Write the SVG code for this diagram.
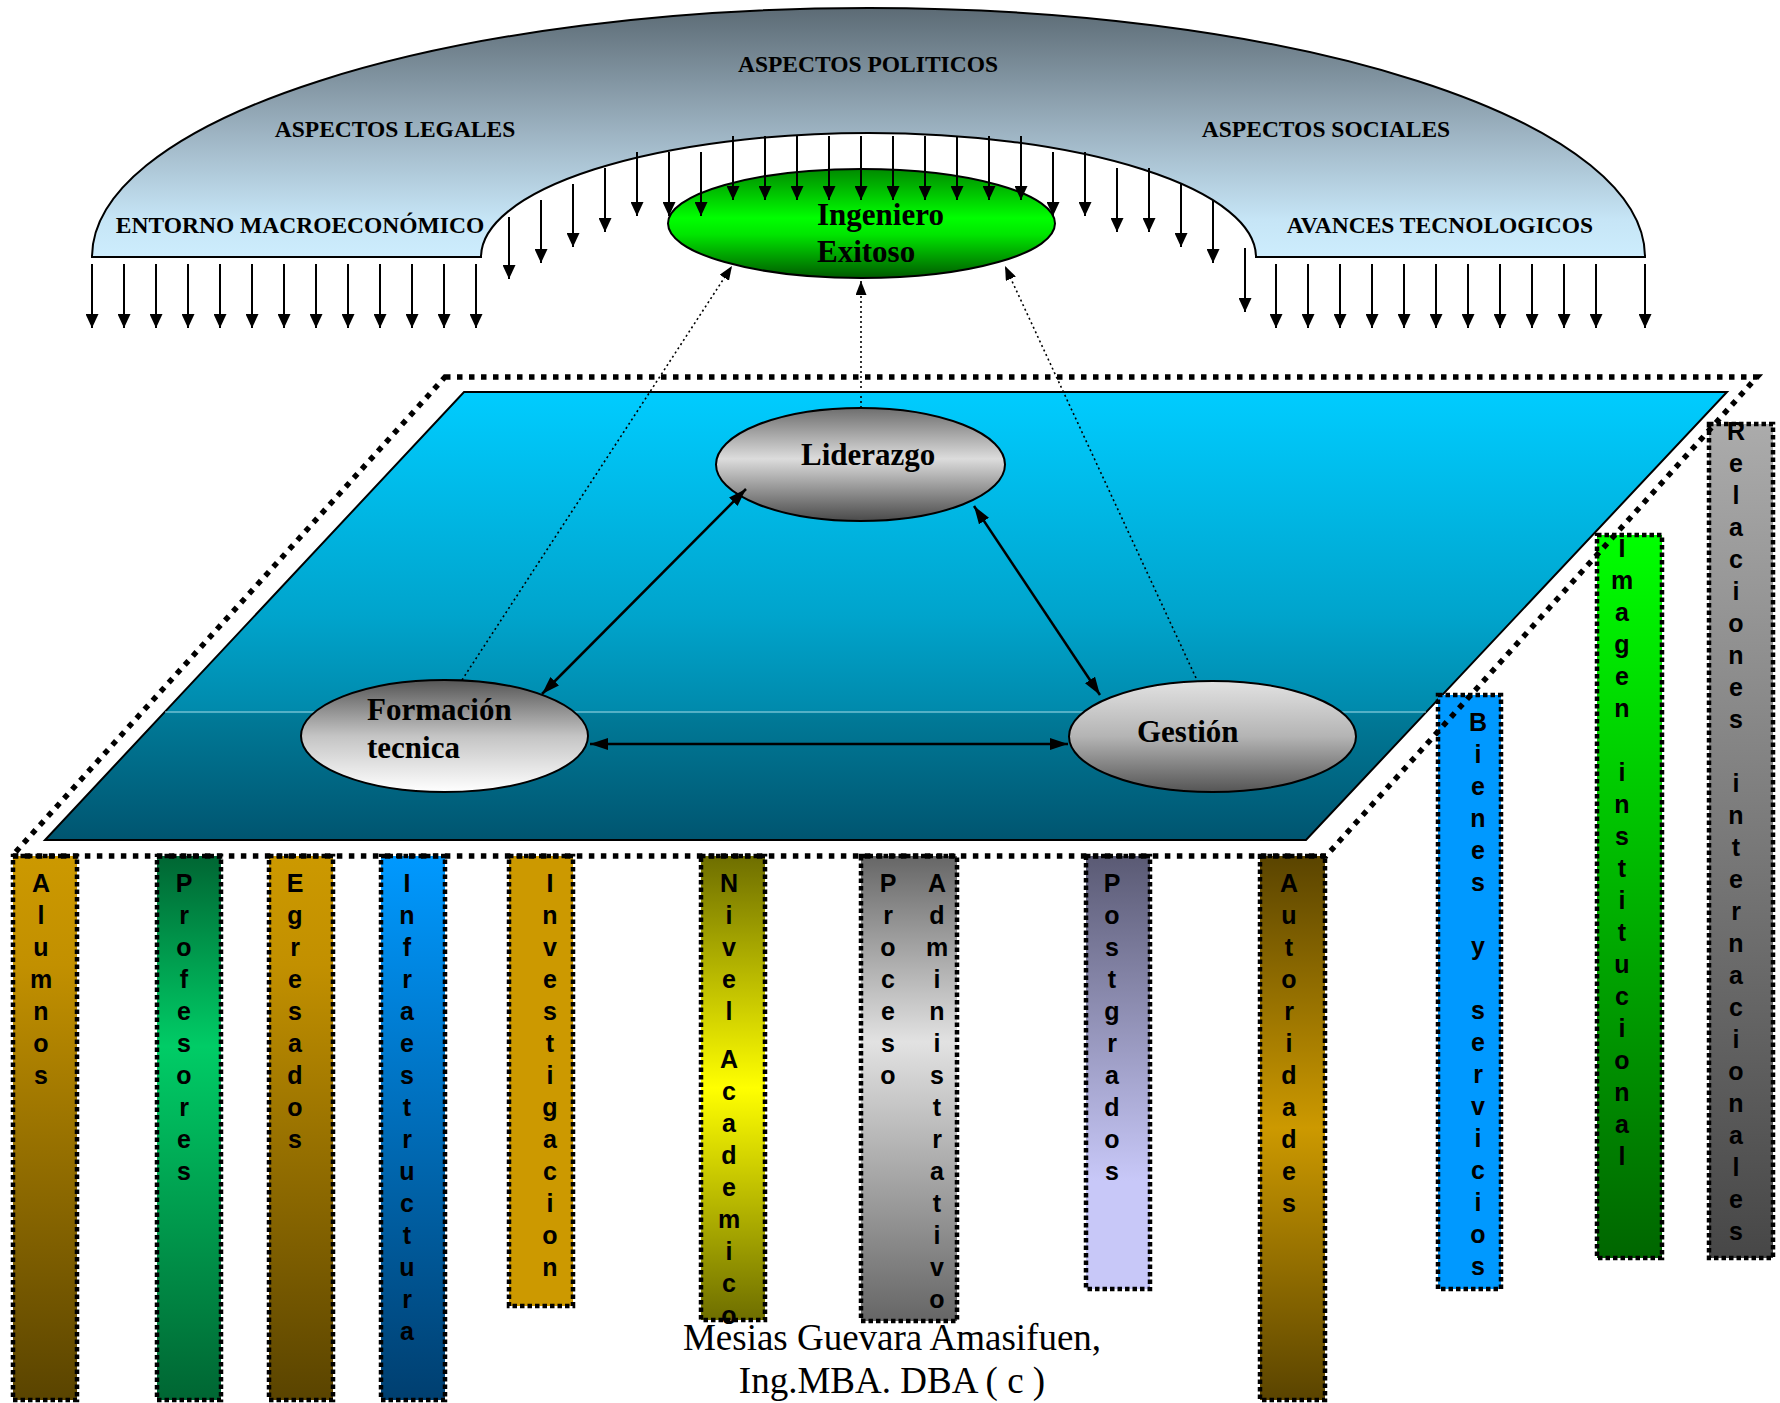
<svg xmlns="http://www.w3.org/2000/svg" width="1780" height="1403" viewBox="0 0 1780 1403">
<style>
.arch{font-family:"Liberation Serif","Times New Roman",serif;font-weight:bold;font-size:23.5px;fill:#000;text-anchor:middle}
.nl{font-family:"Liberation Serif","Times New Roman",serif;font-weight:bold;font-size:31px;fill:#000}
.pl{font-family:"Liberation Sans",Arial,sans-serif;font-weight:bold;font-size:25px;fill:#000;text-anchor:middle}
.auth{font-family:"Liberation Serif","Times New Roman",serif;font-size:37px;fill:#000;text-anchor:middle}
.box{stroke:#000;stroke-width:4.5;stroke-dasharray:4.5 3}
.dn{stroke:#000;stroke-width:2;fill:none;marker-end:url(#hd)}
.sol{stroke:#000;stroke-width:2.5;fill:none;marker-start:url(#hs);marker-end:url(#hs)}
.dot{stroke:#000;stroke-width:1.6;fill:none;stroke-dasharray:2 3;marker-end:url(#ht)}
.ell{stroke:#000;stroke-width:2}
</style>
<defs>
<marker id="hd" viewBox="0 0 14 13" refX="14" refY="6.5" markerWidth="14" markerHeight="13" markerUnits="userSpaceOnUse" orient="auto"><path d="M0,0 L14,6.5 L0,13 z" fill="#000"/></marker>
<marker id="hs" viewBox="0 0 18 12" refX="18" refY="6" markerWidth="18" markerHeight="12" markerUnits="userSpaceOnUse" orient="auto-start-reverse"><path d="M0,0 L18,6 L0,12 z" fill="#000"/></marker>
<marker id="ht" viewBox="0 0 14 11" refX="14" refY="5.5" markerWidth="14" markerHeight="11" markerUnits="userSpaceOnUse" orient="auto"><path d="M0,0 L14,5.5 L0,11 z" fill="#000"/></marker>
<linearGradient id="gArch" x1="0" y1="0" x2="0" y2="1"><stop offset="0" stop-color="#5c6b75"/><stop offset="0.5" stop-color="#9db3c2"/><stop offset="0.85" stop-color="#c6e5f6"/><stop offset="1" stop-color="#cdedfd"/></linearGradient>
<linearGradient id="gGreen" x1="0" y1="0" x2="0" y2="1"><stop offset="0" stop-color="#008a00"/><stop offset="0.45" stop-color="#00ff00"/><stop offset="0.6" stop-color="#00e600"/><stop offset="1" stop-color="#005a00"/></linearGradient>
<linearGradient id="gPlat" x1="0" y1="0" x2="0" y2="1"><stop offset="0" stop-color="#00ccff"/><stop offset="0.5" stop-color="#00a4cc"/><stop offset="0.71" stop-color="#008aac"/><stop offset="0.72" stop-color="#007a98"/><stop offset="1" stop-color="#005570"/></linearGradient>
<linearGradient id="gLid" x1="0" y1="0" x2="0" y2="1"><stop offset="0" stop-color="#6e6e6e"/><stop offset="0.45" stop-color="#dcdcdc"/><stop offset="1" stop-color="#4a4a4a"/></linearGradient>
<linearGradient id="gFor" x1="0" y1="0" x2="0" y2="1"><stop offset="0" stop-color="#555555"/><stop offset="0.5" stop-color="#c4c4c4"/><stop offset="1" stop-color="#ffffff"/></linearGradient>
<linearGradient id="gGes" x1="0" y1="0" x2="0" y2="1"><stop offset="0" stop-color="#e2e2e2"/><stop offset="0.5" stop-color="#b4b4b4"/><stop offset="1" stop-color="#555555"/></linearGradient>
<linearGradient id="pGold" x1="0" y1="0" x2="0" y2="1"><stop offset="0" stop-color="#cc9900"/><stop offset="0.2" stop-color="#c29000"/><stop offset="1" stop-color="#5a4400"/></linearGradient>
<linearGradient id="pProf" x1="0" y1="0" x2="0" y2="1"><stop offset="0" stop-color="#006633"/><stop offset="0.35" stop-color="#00cc66"/><stop offset="1" stop-color="#006633"/></linearGradient>
<linearGradient id="pInf" x1="0" y1="0" x2="0" y2="1"><stop offset="0" stop-color="#0099ff"/><stop offset="1" stop-color="#003f70"/></linearGradient>
<linearGradient id="pNiv" x1="0" y1="0" x2="0" y2="1"><stop offset="0" stop-color="#6e6e00"/><stop offset="0.5" stop-color="#ffff00"/><stop offset="1" stop-color="#6e6e00"/></linearGradient>
<linearGradient id="pPro" x1="0" y1="0" x2="0" y2="1"><stop offset="0" stop-color="#666666"/><stop offset="0.4" stop-color="#e2e2e2"/><stop offset="1" stop-color="#666666"/></linearGradient>
<linearGradient id="pPos" x1="0" y1="0" x2="0" y2="1"><stop offset="0" stop-color="#5a5a74"/><stop offset="0.75" stop-color="#c8c8f8"/><stop offset="1" stop-color="#c8c8f8"/></linearGradient>
<linearGradient id="pAut" x1="0" y1="0" x2="0" y2="1"><stop offset="0" stop-color="#5a4400"/><stop offset="0.5" stop-color="#cc9900"/><stop offset="1" stop-color="#5a4400"/></linearGradient>
<linearGradient id="pIma" x1="0" y1="0" x2="0" y2="1"><stop offset="0" stop-color="#00ff00"/><stop offset="1" stop-color="#006600"/></linearGradient>
<linearGradient id="pRel" x1="0" y1="0" x2="0" y2="1"><stop offset="0" stop-color="#ababab"/><stop offset="1" stop-color="#474747"/></linearGradient>
</defs>

<g id="entorno">
<path d="M92,257 A776.5,249 0 0 1 1645,257 L1256,257 A387.5,124 0 0 0 481,257 Z" fill="url(#gArch)" stroke="#000" stroke-width="2"/>
<text class="arch" x="868" y="72">ASPECTOS POLITICOS</text>
<text class="arch" x="395" y="137">ASPECTOS LEGALES</text>
<text class="arch" x="300" y="233">ENTORNO MACROECONÓMICO</text>
<text class="arch" x="1326" y="137">ASPECTOS SOCIALES</text>
<text class="arch" x="1440" y="233">AVANCES TECNOLOGICOS</text>
</g>

<g id="ingeniero">
<ellipse class="ell" cx="861.5" cy="223.5" rx="193.5" ry="54.5" fill="url(#gGreen)"/>
<text class="nl" x="817" y="225">Ingeniero</text>
<text class="nl" x="817" y="262">Exitoso</text>
</g>

<g id="influencias">
<line class="dn" x1="92" y1="264" x2="92" y2="328"/>
<line class="dn" x1="124" y1="264" x2="124" y2="328"/>
<line class="dn" x1="156" y1="264" x2="156" y2="328"/>
<line class="dn" x1="188" y1="264" x2="188" y2="328"/>
<line class="dn" x1="220" y1="264" x2="220" y2="328"/>
<line class="dn" x1="252" y1="264" x2="252" y2="328"/>
<line class="dn" x1="284" y1="264" x2="284" y2="328"/>
<line class="dn" x1="316" y1="264" x2="316" y2="328"/>
<line class="dn" x1="348" y1="264" x2="348" y2="328"/>
<line class="dn" x1="380" y1="264" x2="380" y2="328"/>
<line class="dn" x1="412" y1="264" x2="412" y2="328"/>
<line class="dn" x1="444" y1="264" x2="444" y2="328"/>
<line class="dn" x1="476" y1="264" x2="476" y2="328"/>
<line class="dn" x1="509" y1="217" x2="509" y2="279"/>
<line class="dn" x1="541" y1="200" x2="541" y2="263"/>
<line class="dn" x1="573" y1="184" x2="573" y2="247"/>
<line class="dn" x1="605" y1="168" x2="605" y2="232"/>
<line class="dn" x1="637" y1="152" x2="637" y2="216"/>
<line class="dn" x1="669" y1="152" x2="669" y2="216"/>
<line class="dn" x1="701" y1="152" x2="701" y2="216"/>
<line class="dn" x1="733" y1="136" x2="733" y2="200"/>
<line class="dn" x1="765" y1="136" x2="765" y2="200"/>
<line class="dn" x1="797" y1="136" x2="797" y2="200"/>
<line class="dn" x1="829" y1="136" x2="829" y2="200"/>
<line class="dn" x1="861" y1="136" x2="861" y2="200"/>
<line class="dn" x1="893" y1="136" x2="893" y2="200"/>
<line class="dn" x1="925" y1="136" x2="925" y2="200"/>
<line class="dn" x1="957" y1="136" x2="957" y2="200"/>
<line class="dn" x1="989" y1="136" x2="989" y2="200"/>
<line class="dn" x1="1021" y1="136" x2="1021" y2="200"/>
<line class="dn" x1="1053" y1="152" x2="1053" y2="216"/>
<line class="dn" x1="1085" y1="152" x2="1085" y2="216"/>
<line class="dn" x1="1117" y1="168" x2="1117" y2="232"/>
<line class="dn" x1="1149" y1="168" x2="1149" y2="232"/>
<line class="dn" x1="1181" y1="184" x2="1181" y2="247"/>
<line class="dn" x1="1213" y1="200" x2="1213" y2="263"/>
<line class="dn" x1="1245" y1="248" x2="1245" y2="312"/>
<line class="dn" x1="1276" y1="264" x2="1276" y2="328"/>
<line class="dn" x1="1308" y1="264" x2="1308" y2="328"/>
<line class="dn" x1="1340" y1="264" x2="1340" y2="328"/>
<line class="dn" x1="1372" y1="264" x2="1372" y2="328"/>
<line class="dn" x1="1404" y1="264" x2="1404" y2="328"/>
<line class="dn" x1="1436" y1="264" x2="1436" y2="328"/>
<line class="dn" x1="1468" y1="264" x2="1468" y2="328"/>
<line class="dn" x1="1500" y1="264" x2="1500" y2="328"/>
<line class="dn" x1="1532" y1="264" x2="1532" y2="328"/>
<line class="dn" x1="1564" y1="264" x2="1564" y2="328"/>
<line class="dn" x1="1596" y1="264" x2="1596" y2="328"/>
<line class="dn" x1="1645" y1="264" x2="1645" y2="328"/>
</g>

<g id="plataforma">
<polygon points="464,392 1727,392 1306,840 45,840" fill="url(#gPlat)" stroke="#000" stroke-width="2"/>
<line x1="165" y1="712" x2="1426" y2="712" stroke="#a8dce8" stroke-width="1"/>
</g>

<g id="pilares">
<g id="alumnos"><rect class="box" x="13" y="856" width="64" height="544" fill="url(#pGold)"/>
<text class="pl" x="41 41 41 41 41 41 41" y="892 924 956 988 1020 1052 1084">Alumnos</text></g>
<g id="profesores"><rect class="box" x="157" y="856" width="64" height="544" fill="url(#pProf)"/>
<text class="pl" x="184 184 184 184 184 184 184 184 184 184" y="892 924 956 988 1020 1052 1084 1116 1148 1180">Profesores</text></g>
<g id="egresados"><rect class="box" x="269" y="856" width="64" height="544" fill="url(#pGold)"/>
<text class="pl" x="295 295 295 295 295 295 295 295 295" y="892 924 956 988 1020 1052 1084 1116 1148">Egresados</text></g>
<g id="infraestructura"><rect class="box" x="381" y="856" width="64" height="544" fill="url(#pInf)"/>
<text class="pl" x="407 407 407 407 407 407 407 407 407 407 407 407 407 407 407" y="892 924 956 988 1020 1052 1084 1116 1148 1180 1212 1244 1276 1308 1340">Infraestructura</text></g>
<g id="investigacion"><rect class="box" x="509" y="856" width="64" height="450" fill="#cc9900"/>
<text class="pl" x="550 550 550 550 550 550 550 550 550 550 550 550 550" y="892 924 956 988 1020 1052 1084 1116 1148 1180 1212 1244 1276">Investigacion</text></g>
<g id="nivel"><rect class="box" x="701" y="856" width="64" height="464" fill="url(#pNiv)"/>
<text class="pl" x="729 729 729 729 729 729 729 729 729 729 729 729 729 729 729" y="892 924 956 988 1020 1044 1068 1100 1132 1164 1196 1228 1260 1292 1324">Nivel Academico</text></g>
<g id="proceso"><rect class="box" x="861" y="856" width="96" height="465" fill="url(#pPro)"/>
<text class="pl" x="888 888 888 888 888 888 888" y="892 924 956 988 1020 1052 1084">Proceso</text>
<text class="pl" x="937 937 937 937 937 937 937 937 937 937 937 937 937 937" y="892 924 956 988 1020 1052 1084 1116 1148 1180 1212 1244 1276 1308">Administrativo</text></g>
<g id="postgrados"><rect class="box" x="1086" y="856" width="64" height="433" fill="url(#pPos)"/>
<text class="pl" x="1112 1112 1112 1112 1112 1112 1112 1112 1112 1112" y="892 924 956 988 1020 1052 1084 1116 1148 1180">Postgrados</text></g>
<g id="autoridades"><rect class="box" x="1260" y="856" width="65" height="544" fill="url(#pAut)"/>
<text class="pl" x="1289 1289 1289 1289 1289 1289 1289 1289 1289 1289 1289" y="892 924 956 988 1020 1052 1084 1116 1148 1180 1212">Autoridades</text></g>
<g id="bienes"><rect class="box" x="1438" y="695" width="63" height="594" fill="#0099ff"/>
<text class="pl" x="1478 1478 1478 1478 1478 1478 1478 1478 1478 1478 1478 1478 1478 1478 1478 1478 1478 1478" y="731 763 795 827 859 891 923 955 987 1019 1051 1083 1115 1147 1179 1211 1243 1275">Bienes y servicios</text></g>
<g id="imagen"><rect class="box" x="1597" y="535" width="65" height="723" fill="url(#pIma)"/>
<text class="pl" x="1622 1622 1622 1622 1622 1622 1622 1622 1622 1622 1622 1622 1622 1622 1622 1622 1622 1622 1622 1622" y="557 589 621 653 685 717 749 781 813 845 877 909 941 973 1005 1037 1069 1101 1133 1165">Imagen institucional</text></g>
<g id="relaciones"><rect class="box" x="1709" y="424" width="64" height="834" fill="url(#pRel)"/>
<text class="pl" x="1736 1736 1736 1736 1736 1736 1736 1736 1736 1736 1736 1736 1736 1736 1736 1736 1736 1736 1736 1736 1736 1736 1736 1736 1736 1736" y="440 472 504 536 568 600 632 664 696 728 760 792 824 856 888 920 952 984 1016 1048 1080 1112 1144 1176 1208 1240">Relaciones internacionales</text></g>
</g>

<g id="borde">
<polygon points="445,377 1757,377 1326,856 12,856" fill="none" stroke="#000" stroke-width="5.5" stroke-dasharray="5.5 6.5"/>
</g>

<g id="liderazgo">
<ellipse class="ell" cx="860.5" cy="464.5" rx="144.5" ry="56.5" fill="url(#gLid)"/>
<text class="nl" x="801" y="465">Liderazgo</text>
</g>
<g id="formacion">
<ellipse class="ell" cx="444.5" cy="736" rx="143.5" ry="56" fill="url(#gFor)"/>
<text class="nl" x="367" y="720">Formación</text>
<text class="nl" x="367" y="758">tecnica</text>
</g>
<g id="gestion">
<ellipse class="ell" cx="1212.5" cy="736.5" rx="143.5" ry="55.5" fill="url(#gGes)"/>
<text class="nl" x="1137" y="742">Gestión</text>
</g>

<g id="conectores">
<line class="sol" x1="542" y1="694" x2="746" y2="489"/>
<line class="sol" x1="974" y1="506" x2="1100" y2="695"/>
<line class="sol" x1="590" y1="744" x2="1068" y2="744"/>
<line class="dot" x1="462" y1="680" x2="732" y2="266"/>
<line class="dot" x1="861" y1="408" x2="861" y2="281"/>
<line class="dot" x1="1196" y1="678" x2="1005" y2="266"/>
</g>

<g id="autor">
<text class="auth" x="892" y="1350">Mesias Guevara Amasifuen,</text>
<text class="auth" x="892" y="1393">Ing.MBA. DBA ( c )</text>
</g>
</svg>
